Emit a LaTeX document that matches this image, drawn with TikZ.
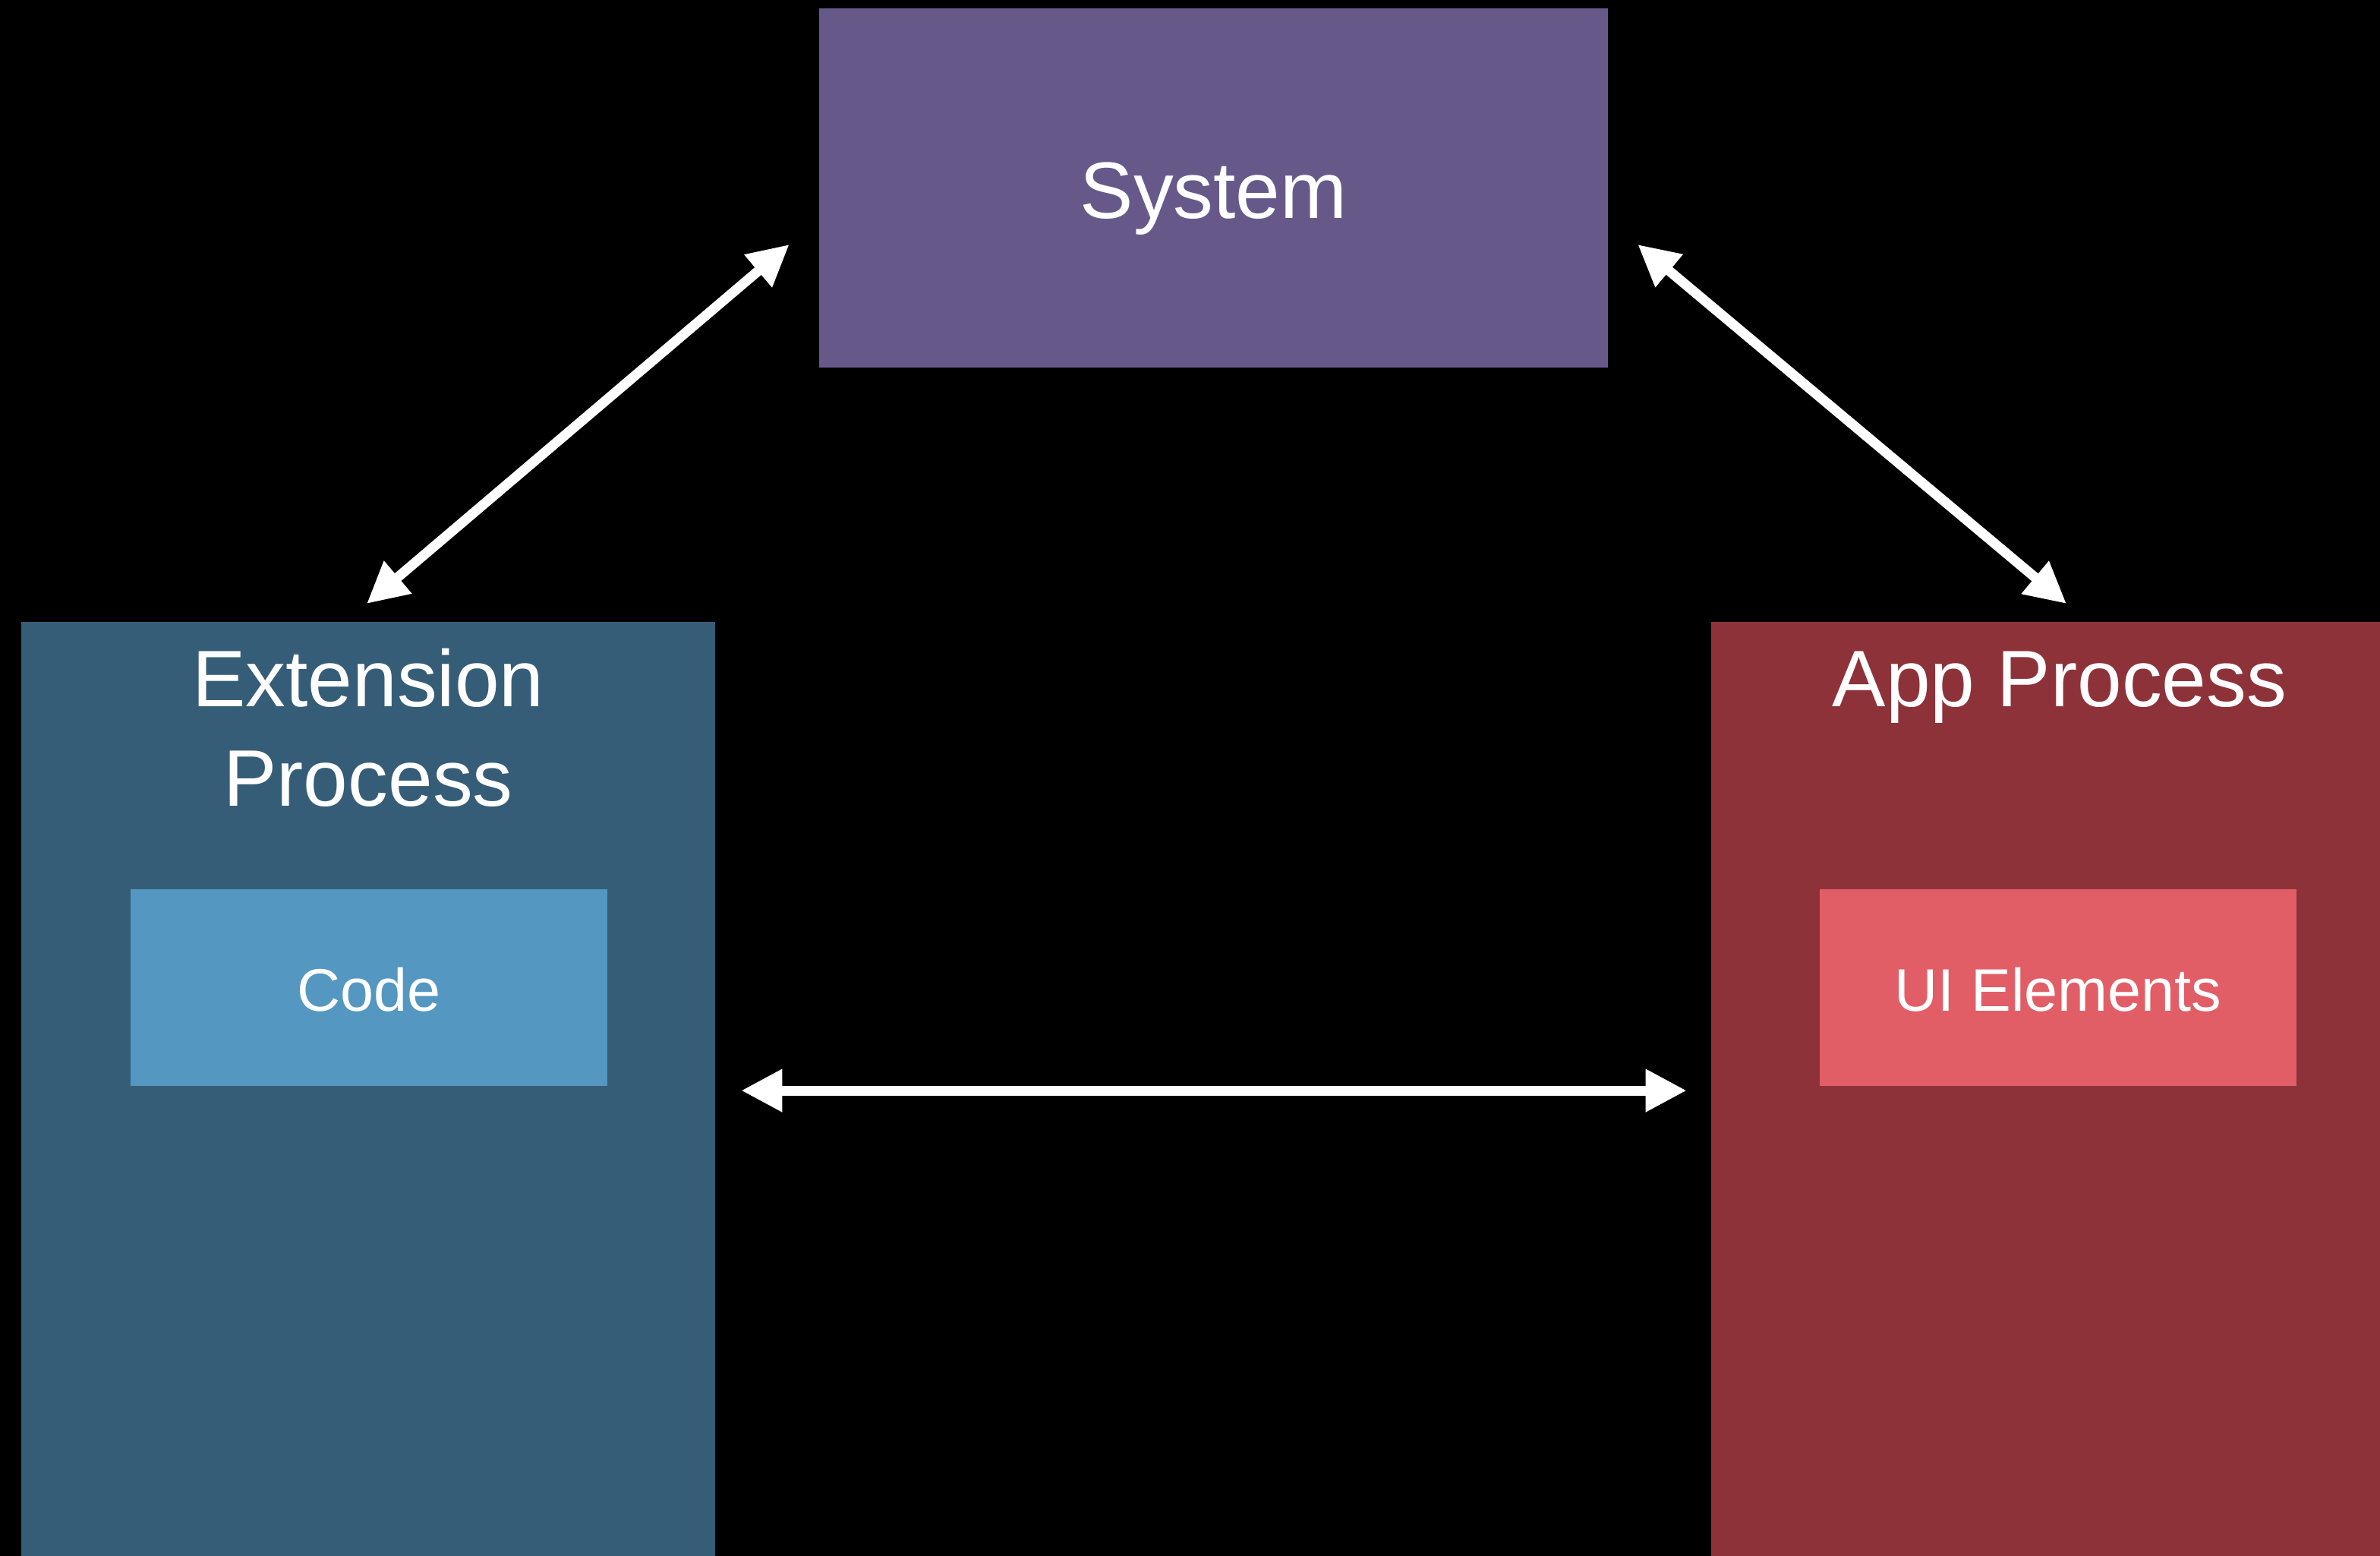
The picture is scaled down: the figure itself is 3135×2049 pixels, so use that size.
\documentclass[tikz,border=0pt]{standalone}
\usepackage{fontspec}
\setmainfont{Liberation Sans}
\usetikzlibrary{arrows.meta,calc}

\definecolor{sysfill}{HTML}{66598A}
\definecolor{extfill}{HTML}{365D77}
\definecolor{codefill}{HTML}{5497C1}
\definecolor{appfill}{HTML}{8E323A}
\definecolor{uifill}{HTML}{E25E67}

\tikzset{
  panel/.style={draw=none, inner sep=0pt, outer sep=0pt, rectangle},
  bigtext/.style={text=white, inner sep=0pt, anchor=base, font=\fontsize{30}{36}\selectfont},
  smalltext/.style={text=white, inner sep=0pt, anchor=base, font=\fontsize{22.5}{27}\selectfont},
  link/.style={white, line width=0.13cm,
    {Triangle[length=5.4mm,width=5.3mm]}-{Triangle[length=5.4mm,width=5.3mm]}}
}

\begin{document}
\begin{tikzpicture}[x=0.01cm, y=-0.01cm]
  % canvas
  \fill[black] (0,0) rectangle (3135,2049);
  \useasboundingbox (0,0) rectangle (3135,2049);
  \clip (0,0) rectangle (3135,2049);

  % System
  \node[panel, fill=sysfill, minimum width=10.39cm, minimum height=4.73cm]
    (sys) at (1598.5,247.5) {};
  \node[bigtext] (systxt) at (1598.5,288) {System};

  % Extension process
  \node[panel, fill=extfill, minimum width=9.14cm, minimum height=13.0cm, anchor=north]
    (ext) at (485,819) {};
  \node[bigtext] (extl1) at (485,931) {Extension};
  \node[bigtext] (extl2) at (485,1062) {Process};
  \node[panel, fill=codefill, minimum width=6.28cm, minimum height=2.59cm]
    (code) at (486,1300.5) {};
  \node[smalltext] (codetxt) at (486,1331) {Code};

  % App process
  \node[panel, fill=appfill, minimum width=9.14cm, minimum height=13.0cm, anchor=north]
    (app) at (2711,819) {};
  \node[bigtext] (apptxt) at (2713,931) {App Process};
  \node[panel, fill=uifill, minimum width=6.28cm, minimum height=2.59cm]
    (ui) at (2711,1300.5) {};
  \node[smalltext] (uitxt) at (2711,1331) {UI Elements};

  % arrow end points beside the panels
  \coordinate (sysL) at ($(sys.west)+(-39,74.5)$);
  \coordinate (sysR) at ($(sys.east)+(39,74.5)$);
  \coordinate (extT) at ($(ext.north)+(-2,-24)$);
  \coordinate (appT) at ($(app.north)+(11,-24)$);
  \coordinate (extR) at ($(ext.east |- code.south)+(34,6)$);
  \coordinate (appL) at ($(app.west |- ui.south)+(-32,6)$);

  % connectors
  \draw[link] (extT) -- (sysL);
  \draw[link] (sysR) -- (appT);
  \draw[link] (extR) -- (appL);
\end{tikzpicture}
\end{document}
